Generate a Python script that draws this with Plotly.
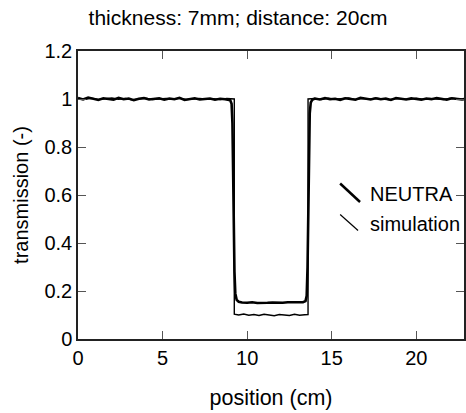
import plotly.graph_objects as go

# ---- data ----
neutra_x = [0.0, 0.3, 0.6, 0.9, 1.2, 1.5, 1.8, 2.1, 2.4, 2.7, 3.0, 3.3, 3.6, 3.9, 4.2, 4.5,
            4.8, 5.1, 5.4, 5.7, 6.0, 6.3, 6.6, 6.9, 7.2, 7.5, 7.8, 8.1, 8.4, 8.7, 9.0,
            9.08, 9.13, 9.17, 9.21, 9.25, 9.3, 9.38, 9.5,
            9.7, 10.0, 10.3, 10.6, 10.9, 11.2, 11.5, 11.8, 12.1, 12.4, 12.7, 13.0, 13.3,
            13.45, 13.52, 13.57, 13.61, 13.65, 13.7, 13.76, 13.85,
            14.0, 14.3, 14.6, 14.9, 15.2, 15.5, 15.8, 16.1, 16.4, 16.7, 17.0, 17.3, 17.6,
            17.9, 18.2, 18.5, 18.8, 19.1, 19.4, 19.7, 20.0, 20.3, 20.6, 20.9, 21.2, 21.5,
            21.8, 22.1, 22.4, 22.7, 23.0]
neutra_y = [1.004, 0.998, 1.006, 1.001, 0.996, 1.003, 1.000, 0.997, 1.005, 0.999, 1.002,
            0.995, 1.001, 1.004, 0.998, 1.000, 1.003, 0.997, 1.002, 0.999, 1.005, 0.996,
            1.001, 1.003, 0.998, 1.000, 1.002, 0.997, 1.001, 0.999, 0.995,
            0.98, 0.90, 0.70, 0.45, 0.28, 0.19, 0.163, 0.155,
            0.152, 0.151, 0.153, 0.150, 0.152, 0.151, 0.152, 0.150, 0.151, 0.153, 0.152,
            0.151, 0.153,
            0.158, 0.18, 0.30, 0.55, 0.80, 0.94, 0.985, 0.997,
            1.002, 0.998, 1.004, 0.999, 1.001, 0.996, 1.003, 1.000, 0.997, 1.005, 1.001,
            0.998, 1.003, 0.999, 1.002, 0.996, 1.004, 1.000, 0.998, 1.003, 1.001, 0.997,
            1.002, 0.999, 1.004, 1.000, 0.997, 1.003, 1.001, 0.998, 1.002]

sim_x = [0.0, 0.4, 0.8, 1.2, 1.6, 2.0, 2.4, 2.8, 3.2, 3.6, 4.0, 4.4, 4.8, 5.2, 5.6, 6.0,
         6.4, 6.8, 7.2, 7.6, 8.0, 8.4, 8.8, 9.24,
         9.24, 9.5, 9.8, 10.1, 10.4, 10.7, 11.0, 11.3, 11.6, 11.9, 12.2, 12.5, 12.8, 13.1,
         13.4, 13.6,
         13.6, 14.0, 14.4, 14.8, 15.2, 15.6, 16.0, 16.4, 16.8, 17.2, 17.6, 18.0, 18.4,
         18.8, 19.2, 19.6, 20.0, 20.4, 20.8, 21.2, 21.6, 22.0, 22.4, 22.8, 23.0]
sim_y = [1.002, 0.999, 1.003, 0.998, 1.001, 1.004, 0.999, 1.002, 0.997, 1.001, 1.003,
         0.998, 1.000, 1.002, 0.999, 1.003, 0.998, 1.001, 1.002, 0.999, 1.001, 0.998,
         1.002, 1.000,
         0.103, 0.100, 0.104, 0.099, 0.102, 0.098, 0.103, 0.100, 0.097, 0.102, 0.101,
         0.098, 0.103, 0.099, 0.101, 0.102,
         1.000, 1.002, 0.998, 1.003, 0.999, 1.001, 1.004, 0.998, 1.002, 0.999, 1.003,
         1.000, 0.997, 1.002, 1.001, 0.998, 1.003, 0.999, 1.002, 1.000, 0.998, 1.003,
         1.001, 0.999, 1.002]

x_ticks = [0, 5, 10, 15, 20]
y_ticks = [0, 0.2, 0.4, 0.6, 0.8, 1.0, 1.2]
y_tick_labels = ["0", "0.2", "0.4", "0.6", "0.8", "1", "1.2"]
legend_labels = ["NEUTRA", "simulation"]

FONT = "Arial, Liberation Sans, sans-serif"

fig = go.Figure()
fig.add_trace(go.Scatter(x=sim_x, y=sim_y, mode="lines",
                         line=dict(color="black", width=1.4), name="simulation",
                         showlegend=False))
fig.add_trace(go.Scatter(x=neutra_x, y=neutra_y, mode="lines",
                         line=dict(color="black", width=2.6), name="NEUTRA",
                         showlegend=False))

# plot area in pixels: x 78..466, y 51..339
L, T, W, H = 78, 51, 388, 288
def px(x):
    return (x - L) / W
def py(y):
    return 1 - (y - T) / H

shapes = [
    dict(type="line", xref="paper", yref="paper", x0=px(341.5), y0=py(183.5),
         x1=px(361.5), y1=py(202), line=dict(color="black", width=2.5)),
    dict(type="line", xref="paper", yref="paper", x0=px(341.5), y0=py(214.5),
         x1=px(359.5), y1=py(230.5), line=dict(color="black", width=1.2)),
]
annotations = [
    dict(text=legend_labels[0], xref="paper", yref="paper", x=px(369), y=py(194),
         xanchor="left", yanchor="middle", showarrow=False,
         font=dict(family=FONT, size=20, color="black")),
    dict(text=legend_labels[1], xref="paper", yref="paper", x=px(369), y=py(224),
         xanchor="left", yanchor="middle", showarrow=False,
         font=dict(family=FONT, size=20, color="black")),
]

fig.update_layout(
    width=466, height=413,
    margin=dict(l=L, r=0, t=T, b=413 - T - H),
    paper_bgcolor="white", plot_bgcolor="white",
    font=dict(family=FONT, size=20, color="black"),
    title=dict(text="thickness: 7mm; distance: 20cm", x=238 / 466, xanchor="center",
               y=1 - 18 / 413, yanchor="middle",
               font=dict(family=FONT, size=21, color="black")),
    showlegend=False,
    shapes=shapes,
    annotations=annotations,
    xaxis=dict(range=[0, 22.82], tickvals=x_ticks, ticks="inside", ticklen=8,
               tickcolor="#555", tickwidth=1, showline=True, linecolor="#222",
               linewidth=1.5, mirror="ticks", showgrid=False, zeroline=False,
               title=dict(text="position (cm)", standoff=22,
                          font=dict(family=FONT, size=21.5)),
               tickfont=dict(family=FONT, size=20)),
    yaxis=dict(range=[0, 1.2], tickvals=y_ticks, ticktext=y_tick_labels,
               ticks="inside", ticklen=8, tickcolor="#555", tickwidth=1,
               showline=True, linecolor="#222", linewidth=1.5, mirror="ticks",
               showgrid=False, zeroline=False,
               title=dict(text="transmission (-)", standoff=10,
                          font=dict(family=FONT, size=20)),
               tickfont=dict(family=FONT, size=20)),
)

fig.write_html("out.html")
